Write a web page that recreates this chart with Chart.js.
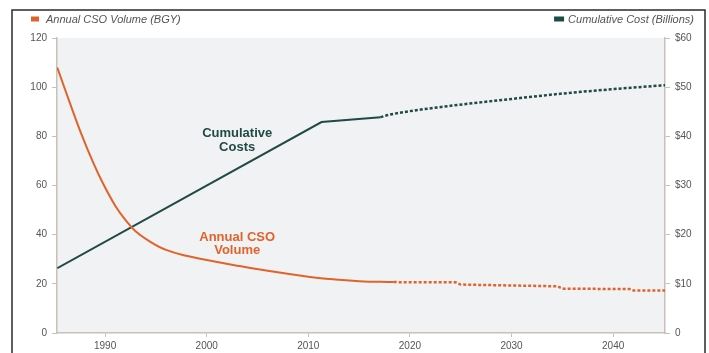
<!DOCTYPE html>
<html>
<head>
<meta charset="utf-8">
<script src="https://cdn.jsdelivr.net/npm/chart.js@4"></script>
<style>
    body { margin: 0; background: #ffffff; }
    .chart-box { position: relative; width: 709px; height: 353px; }
</style>
</head>
<body>
<div class="chart-box"><canvas id="csoChart"></canvas></div>
<script>
// values
const volumeYears = [1985.3, 1986.5, 1987.7, 1988.8, 1989.8, 1991, 1992, 1993, 1994.5, 1996, 1998, 2000, 2003, 2006, 2010, 2012, 2015, 2018.4];
const volumeValues = [108, 94, 80.6, 69.6, 60.8, 51.8, 46.0, 41.4, 37.0, 33.8, 31.4, 29.7, 27.4, 25.3, 22.9, 22.0, 21.1, 20.7];
const volumeProjYears = [2018.4, 2024.5, 2025, 2034.5, 2035, 2041.6, 2042, 2045.1];
const volumeProjValues = [20.7, 20.6, 19.7, 19.0, 18.0, 17.9, 17.3, 17.3];

const costYears = [1985.3, 2011.3, 2017.1];
const costValues = [13.2, 42.9, 43.9];
const costProjYears = [2017.1, 2018, 2024, 2030, 2035, 2040, 2045.1];
const costProjValues = [43.9, 44.4, 46.2, 47.6, 48.7, 49.6, 50.4];

const yearTicks = [1990, 2000, 2010, 2020, 2030, 2040];
const volumeTicks = [0, 20, 40, 60, 80, 100, 120];
const costTicks = [0, 10, 20, 30, 40, 50, 60];
const costTickLabels = ['0', '$10', '$20', '$30', '$40', '$50', '$60'];

const legendLeft = 'Annual CSO Volume (BGY)';
const legendRight = 'Cumulative Cost (Billions)';

const ORANGE = '#e0632b';
const GREEN = '#1f4a45';
const AXIS = '#c9c0ba';
const TEXT = '#555555';
const FONT = '"Liberation Sans", Arial, sans-serif';

const pts = (xs, ys) => xs.map((x, i) => ({ x: x, y: ys[i] }));

// the in-chart labels, in data units of the x / left y axis
const notes = [
    { lines: ['Cumulative', 'Costs'], x: 2003, y: [81.0, 75.3], color: GREEN },
    { lines: ['Annual CSO', 'Volume'], x: 2003, y: [38.7, 33.5], color: ORANGE }
];

const decorPlugin = {
    id: 'decor',
    beforeDraw(chart) {
        const { ctx, chartArea } = chart;
        ctx.save();
        ctx.fillStyle = '#f1f2f3';
        ctx.fillRect(chartArea.left, chartArea.top, chartArea.right - chartArea.left, chartArea.bottom - chartArea.top);
        ctx.restore();
    },
    afterDraw(chart) {
        const { ctx, scales } = chart;
        ctx.save();
        // frame
        ctx.strokeStyle = '#2a2a2a';
        ctx.lineWidth = 1.5;
        ctx.strokeRect(12, 10, 693, 400);

        // legends
        ctx.font = 'italic 11px ' + FONT;
        ctx.textBaseline = 'middle';
        ctx.fillStyle = ORANGE;
        ctx.fillRect(31, 16.5, 8, 5);
        ctx.fillStyle = TEXT;
        ctx.textAlign = 'left';
        ctx.fillText(legendLeft, 46, 19.5);

        ctx.textAlign = 'right';
        ctx.fillText(legendRight, 694, 19.5);
        const w = ctx.measureText(legendRight).width;
        ctx.fillStyle = GREEN;
        ctx.fillRect(694 - w - 14, 16.5, 10, 5);

        // labels on the lines
        ctx.font = 'bold 13px ' + FONT;
        ctx.textAlign = 'center';
        notes.forEach(n => {
            ctx.fillStyle = n.color;
            n.lines.forEach((t, i) => {
                ctx.fillText(t, scales.x.getPixelForValue(n.x), scales.y.getPixelForValue(n.y[i]));
            });
        });
        ctx.restore();
    }
};

const tickFont = { family: FONT, size: 10 };

new Chart(document.getElementById('csoChart'), {
    type: 'line',
    data: {
        datasets: [
            {
                label: 'Annual CSO Volume',
                data: pts(volumeYears, volumeValues),
                yAxisID: 'y',
                borderColor: ORANGE,
                borderWidth: 2,
                tension: 0.4,
                pointRadius: 0
            },
            {
                label: 'Annual CSO Volume (projected)',
                data: pts(volumeProjYears, volumeProjValues),
                yAxisID: 'y',
                borderColor: ORANGE,
                borderWidth: 2.5,
                borderDash: [3, 2],
                tension: 0,
                pointRadius: 0
            },
            {
                label: 'Cumulative Cost',
                data: pts(costYears, costValues),
                yAxisID: 'y2',
                borderColor: GREEN,
                borderWidth: 2,
                tension: 0,
                pointRadius: 0
            },
            {
                label: 'Cumulative Cost (projected)',
                data: pts(costProjYears, costProjValues),
                yAxisID: 'y2',
                borderColor: GREEN,
                borderWidth: 2.5,
                borderDash: [3, 2],
                cubicInterpolationMode: 'monotone',
                pointRadius: 0
            }
        ]
    },
    options: {
        responsive: true,
        maintainAspectRatio: false,
        animation: false,
        layout: { padding: { top: 38, left: 0, right: 0, bottom: 0 } },
        scales: {
            x: {
                type: 'linear',
                min: 1985.27,
                max: 2045.1,
                afterFit(scale) { scale.height = 20; },
                afterBuildTicks(scale) { scale.ticks = yearTicks.map(v => ({ value: v })); },
                grid: { drawOnChartArea: false, drawTicks: true, tickLength: 4, color: AXIS },
                border: { display: true, color: AXIS, width: 1.5 },
                ticks: { color: TEXT, font: tickFont, padding: 3, maxRotation: 0, callback: v => String(v) }
            },
            y: {
                position: 'left',
                min: 0,
                max: 120,
                afterFit(scale) { scale.width = 57; },
                afterBuildTicks(scale) { scale.ticks = volumeTicks.map(v => ({ value: v })); },
                grid: { drawOnChartArea: false, drawTicks: true, tickLength: 5, color: AXIS },
                border: { display: true, color: AXIS, width: 1.5 },
                ticks: { color: TEXT, font: tickFont, padding: 5 }
            },
            y2: {
                position: 'right',
                min: 0,
                max: 60,
                afterFit(scale) { scale.width = 44; },
                afterBuildTicks(scale) { scale.ticks = costTicks.map(v => ({ value: v })); },
                grid: { drawOnChartArea: false, drawTicks: true, tickLength: 5, color: AXIS },
                border: { display: true, color: AXIS, width: 1.5 },
                ticks: {
                    color: TEXT,
                    font: tickFont,
                    padding: 5,
                    callback: v => costTickLabels[costTicks.indexOf(v)]
                }
            }
        },
        plugins: {
            legend: { display: false },
            tooltip: { enabled: false }
        }
    },
    plugins: [decorPlugin]
});
</script>
</body>
</html>
